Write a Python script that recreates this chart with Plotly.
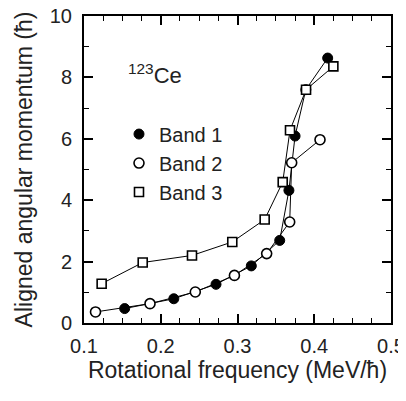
import plotly.graph_objects as go

# Data
band1_x = [0.153, 0.217, 0.272, 0.318, 0.355, 0.367, 0.375, 0.389, 0.4175]
band1_y = [0.47, 0.79, 1.26, 1.86, 2.69, 4.32, 6.09, 7.60, 8.63]
band2_x = [0.115, 0.186, 0.245, 0.296, 0.338, 0.368, 0.3706, 0.4075]
band2_y = [0.36, 0.63, 1.01, 1.55, 2.26, 3.29, 5.22, 5.97]
band3_x = [0.123, 0.1765, 0.2407, 0.2932, 0.3354, 0.3589, 0.3684, 0.3893, 0.4249]
band3_y = [1.28, 1.97, 2.20, 2.64, 3.37, 4.59, 6.28, 7.60, 8.36]
names = ["Band 1", "Band 2", "Band 3"]

FONT = "Liberation Sans, Arial, sans-serif"
TXT = "#222"

fig = go.Figure()
styles = [
    dict(symbol="circle", size=10, color="black", line=dict(color="black", width=1)),
    dict(symbol="circle", size=10, color="white", line=dict(color="black", width=1.6)),
    dict(symbol="square", size=9, color="white", line=dict(color="black", width=1.6)),
]
series = [(band1_x, band1_y), (band2_x, band2_y), (band3_x, band3_y)]
for (xs, ys), st, nm in zip(series, styles, names):
    fig.add_trace(go.Scatter(x=xs, y=ys, mode="lines", line=dict(color="black", width=1),
                             showlegend=False, hoverinfo="skip"))
for (xs, ys), st, nm in zip(series, styles, names):
    fig.add_trace(go.Scatter(x=xs, y=ys, mode="markers", marker=st, showlegend=False, name=nm))
for st, nm in zip(styles, names):
    fig.add_trace(go.Scatter(x=[None], y=[None], mode="markers", marker=st, name=nm, showlegend=True))

axis_common = dict(
    showgrid=False, zeroline=False, showline=True, linecolor="black", linewidth=2,
    mirror="ticks", ticks="inside", ticklen=9, tickwidth=1.5, tickcolor="black",
    tickfont=dict(family=FONT, size=20, color=TXT), automargin=False,
    ticklabeloverflow="allow",
)
fig.update_xaxes(range=[0.1, 0.5], dtick=0.1, tick0=0.1, tickformat=".1f", ticklabelstandoff=4,
                 minor=dict(dtick=0.025, ticks="inside", ticklen=5, tickwidth=1.2, tickcolor="black"),
                 title=dict(text="Rotational frequency (MeV/ħ)", font=dict(family=FONT, size=23, color=TXT),
                            standoff=2),
                 **axis_common)
fig.update_yaxes(range=[0, 10], dtick=2, ticklabelstandoff=6,
                 minor=dict(dtick=1, ticks="inside", ticklen=5, tickwidth=1.2, tickcolor="black"),
                 title=dict(text="Aligned angular momentum (ħ)", font=dict(family=FONT, size=23, color=TXT),
                            standoff=11),
                 **axis_common)

fig.add_annotation(x=0.137, y=0.81, xref="paper", yref="paper", xanchor="left", yanchor="middle",
                   text="<sup>123</sup>Ce", showarrow=False,
                   font=dict(family=FONT, size=22, color=TXT))

# page body has an 8px default margin: figure is offset by 8px right and down
fig.update_layout(
    width=398, height=393,
    margin=dict(l=76, r=15, t=8, b=78),
    paper_bgcolor="white", plot_bgcolor="white",
    font=dict(family=FONT, color=TXT),
    legend=dict(x=0.114, y=0.679, xanchor="left", yanchor="top", bgcolor="rgba(0,0,0,0)",
                font=dict(family=FONT, size=20, color=TXT), itemwidth=30, tracegroupgap=0),
)

fig.write_html("out.html")
